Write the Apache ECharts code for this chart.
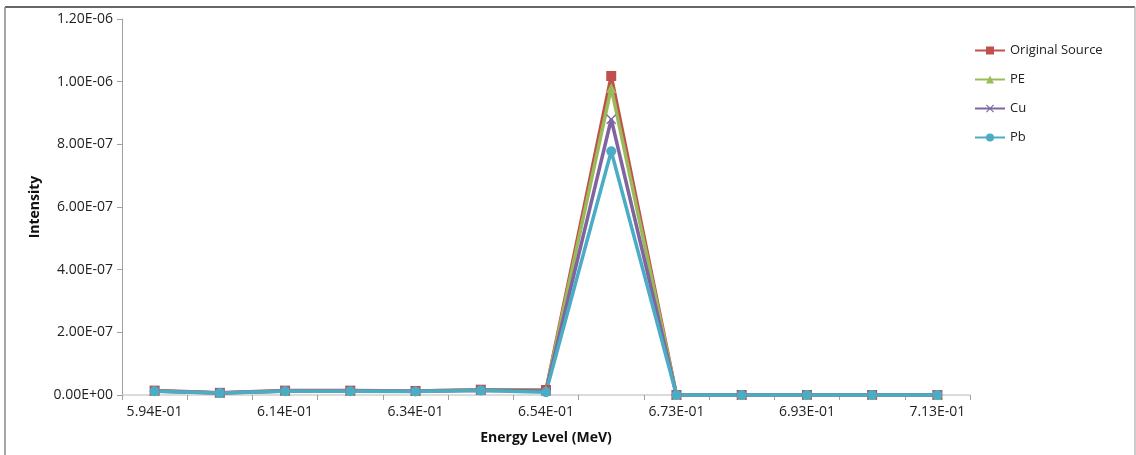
<!DOCTYPE html>
<html>
<head>
<meta charset="utf-8">
<script src="https://cdn.jsdelivr.net/npm/echarts@6/dist/echarts.min.js"></script>
<style>
  html, body { margin: 0; padding: 0; background: #fff; }
  #chart { width: 1136px; height: 455px; }
</style>
</head>
<body>
<div id="chart"></div>
<script>
const categories = ['5.94E-01', '6.04E-01', '6.14E-01', '6.24E-01', '6.34E-01', '6.44E-01', '6.54E-01',
  '6.63E-01', '6.73E-01', '6.83E-01', '6.93E-01', '7.03E-01', '7.13E-01'];
const yTickLabels = ['0.00E+00', '2.00E-07', '4.00E-07', '6.00E-07', '8.00E-07', '1.00E-06', '1.20E-06'];

const originalSource = [1.4e-8, 7e-9, 1.4e-8, 1.4e-8, 1.3e-8, 1.7e-8, 1.6e-8, 1.018e-6, 0, 0, 0, 0, 0];
const pe = [1.3e-8, 6e-9, 1.3e-8, 1.3e-8, 1.3e-8, 1.6e-8, 1.5e-8, 9.8e-7, 0, 0, 0, 0, 0];
const cu = [1.3e-8, 6e-9, 1.3e-8, 1.3e-8, 1.2e-8, 1.5e-8, 1.3e-8, 8.8e-7, 0, 0, 0, 0, 0];
const pb = [1.2e-8, 6e-9, 1.2e-8, 1.2e-8, 1.1e-8, 1.4e-8, 9e-9, 7.78e-7, 0, 0, 0, 0, 0];

const crossSymbol = 'path://M0,1 L1,0 L5,4 L9,0 L10,1 L6,5 L10,9 L9,10 L5,6 L1,10 L0,9 L4,5 Z';
const font = '"Open Sans", "Liberation Sans", sans-serif';

const chart = echarts.init(document.getElementById('chart'));

function makeSeries(name, data, color, symbol, size) {
  return {
    name: name,
    type: 'line',
    data: data,
    symbol: symbol,
    symbolSize: size,
    showAllSymbol: true,
    lineStyle: { color: color, width: 3.5 },
    itemStyle: { color: color },
    emphasis: { disabled: true },
    animation: false
  };
}

chart.setOption({
  animation: false,
  textStyle: { fontFamily: font },
  grid: { left: 122, right: 166, top: 19, bottom: 60 },
  legend: {
    orient: 'vertical',
    left: 969,
    top: 39,
    itemWidth: 30,
    itemHeight: 10,
    itemGap: 16,
    textStyle: { fontSize: 13, color: '#222', fontFamily: font },
    data: ['Original Source', 'PE', 'Cu', 'Pb']
  },
  xAxis: {
    type: 'category',
    data: categories,
    boundaryGap: true,
    name: 'Energy Level (MeV)',
    nameLocation: 'middle',
    nameGap: 36,
    nameTextStyle: { fontSize: 14, fontWeight: 'bold', color: '#111', fontFamily: font },
    axisLine: { lineStyle: { color: '#cfcfcf', width: 1.5 } },
    axisTick: { show: true, interval: 0, length: 5, lineStyle: { color: '#a0a0a0' } },
    axisLabel: { interval: 1, fontSize: 14, color: '#222', margin: 10 },
    splitLine: { show: false }
  },
  yAxis: {
    type: 'value',
    min: 0,
    max: 1.2e-6,
    interval: 2e-7,
    name: 'Intensity',
    nameLocation: 'middle',
    nameRotate: 90,
    nameGap: 80,
    nameTextStyle: { fontSize: 14, fontWeight: 'bold', color: '#111', fontFamily: font },
    axisLine: { show: true, lineStyle: { color: '#a0a0a0', width: 1 } },
    axisTick: { show: true, length: 5, lineStyle: { color: '#a0a0a0' } },
    axisLabel: {
      fontSize: 14,
      color: '#222',
      margin: 9,
      formatter: (v) => yTickLabels[Math.round(v / 2e-7)]
    },
    splitLine: { show: false }
  },
  graphic: [
    { type: 'line', shape: { x1: 5, y1: 7, x2: 1135, y2: 7 }, style: { stroke: '#333', lineWidth: 1.5 } },
    { type: 'line', shape: { x1: 5, y1: 7, x2: 5, y2: 455 }, style: { stroke: '#888', lineWidth: 1.5 } },
    { type: 'line', shape: { x1: 1135, y1: 7, x2: 1135, y2: 455 }, style: { stroke: '#bbb', lineWidth: 1.5 } }
  ],
  series: [
    makeSeries('Original Source', originalSource, '#C0504D', 'rect', 10),
    makeSeries('PE', pe, '#9BBB59', 'triangle', 10),
    makeSeries('Cu', cu, '#8064A2', crossSymbol, 10),
    makeSeries('Pb', pb, '#4BACC6', 'circle', 10)
  ]
});
</script>
</body>
</html>
